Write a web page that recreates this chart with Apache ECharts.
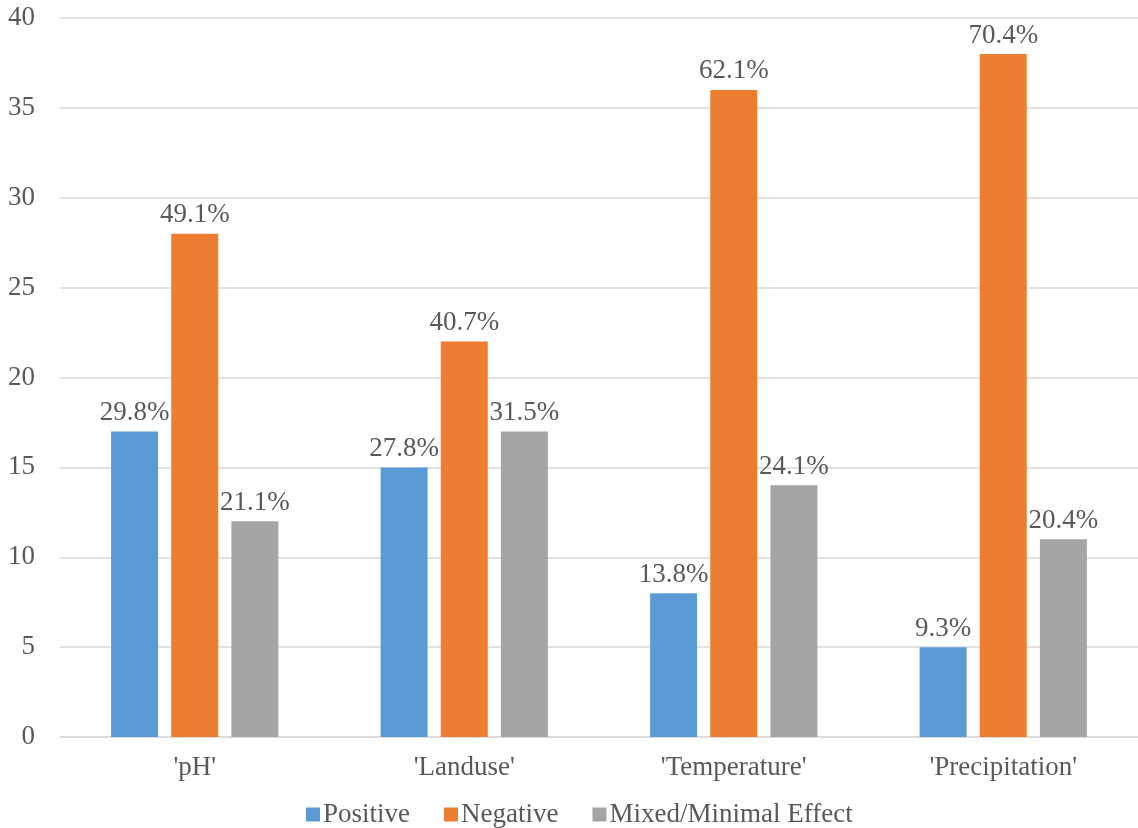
<!DOCTYPE html>
<html>
<head>
<meta charset="utf-8">
<script src="https://cdn.jsdelivr.net/npm/echarts@6/dist/echarts.min.js"></script>
<style>
  html, body { margin: 0; padding: 0; background: #fff; }
  #chart { width: 1138px; height: 828px; }
</style>
</head>
<body>
<div id="chart"></div>
<script>
// Categories and counts per effect type
const categories = ["'pH'", "'Landuse'", "'Temperature'", "'Precipitation'"];
const positive = [17, 15, 8, 5];
const negative = [28, 22, 36, 38];
const mixed = [12, 17, 14, 11];
const seriesNames = ['Positive', 'Negative', 'Mixed/Minimal Effect'];
const yTicks = { min: 0, max: 40, interval: 5 };

// Share of each effect type within its category, shown above the bars
const totals = categories.map((_, i) => positive[i] + negative[i] + mixed[i]);
const pct = (arr) => (p) => (arr[p.dataIndex] / totals[p.dataIndex] * 100).toFixed(1) + '%';

const serif = '"Liberation Serif", "Times New Roman", serif';
const textColor = '#595959';
const fontSize = 27;

function barSeries(name, data, color) {
  return {
    name: name,
    type: 'bar',
    data: data,
    barWidth: 47,
    barGap: '28%',
    itemStyle: { color: color },
    label: {
      show: true,
      position: 'top',
      distance: 5,
      formatter: pct(data),
      fontFamily: serif,
      fontSize: fontSize,
      color: textColor
    }
  };
}

const chart = echarts.init(document.getElementById('chart'), null, { renderer: 'canvas' });
chart.setOption({
  animation: false,
  backgroundColor: '#ffffff',
  grid: { left: 60, top: 18, width: 1084, height: 719, containLabel: false },
  legend: {
    data: seriesNames,
    top: 801,
    left: 306,
    padding: 0,
    icon: 'rect',
    itemWidth: 14,
    itemHeight: 14,
    itemGap: 34,
    textStyle: { fontFamily: serif, fontSize: fontSize, color: textColor, padding: [0, 0, 0, -2] }
  },
  xAxis: {
    type: 'category',
    data: categories,
    axisLine: { lineStyle: { color: '#d9d9d9', width: 1.5 } },
    axisTick: { show: false },
    axisLabel: { fontFamily: serif, fontSize: fontSize, color: textColor, margin: 17 }
  },
  yAxis: {
    type: 'value',
    min: yTicks.min,
    max: yTicks.max,
    interval: yTicks.interval,
    axisLine: { show: false },
    axisTick: { show: false },
    splitLine: { lineStyle: { color: '#d9d9d9', width: 1.5 } },
    axisLabel: { fontFamily: serif, fontSize: fontSize, color: textColor, margin: 25 }
  },
  series: [
    barSeries(seriesNames[0], positive, '#5b9bd5'),
    barSeries(seriesNames[1], negative, '#ed7d31'),
    barSeries(seriesNames[2], mixed, '#a5a5a5')
  ]
});
</script>
</body>
</html>
